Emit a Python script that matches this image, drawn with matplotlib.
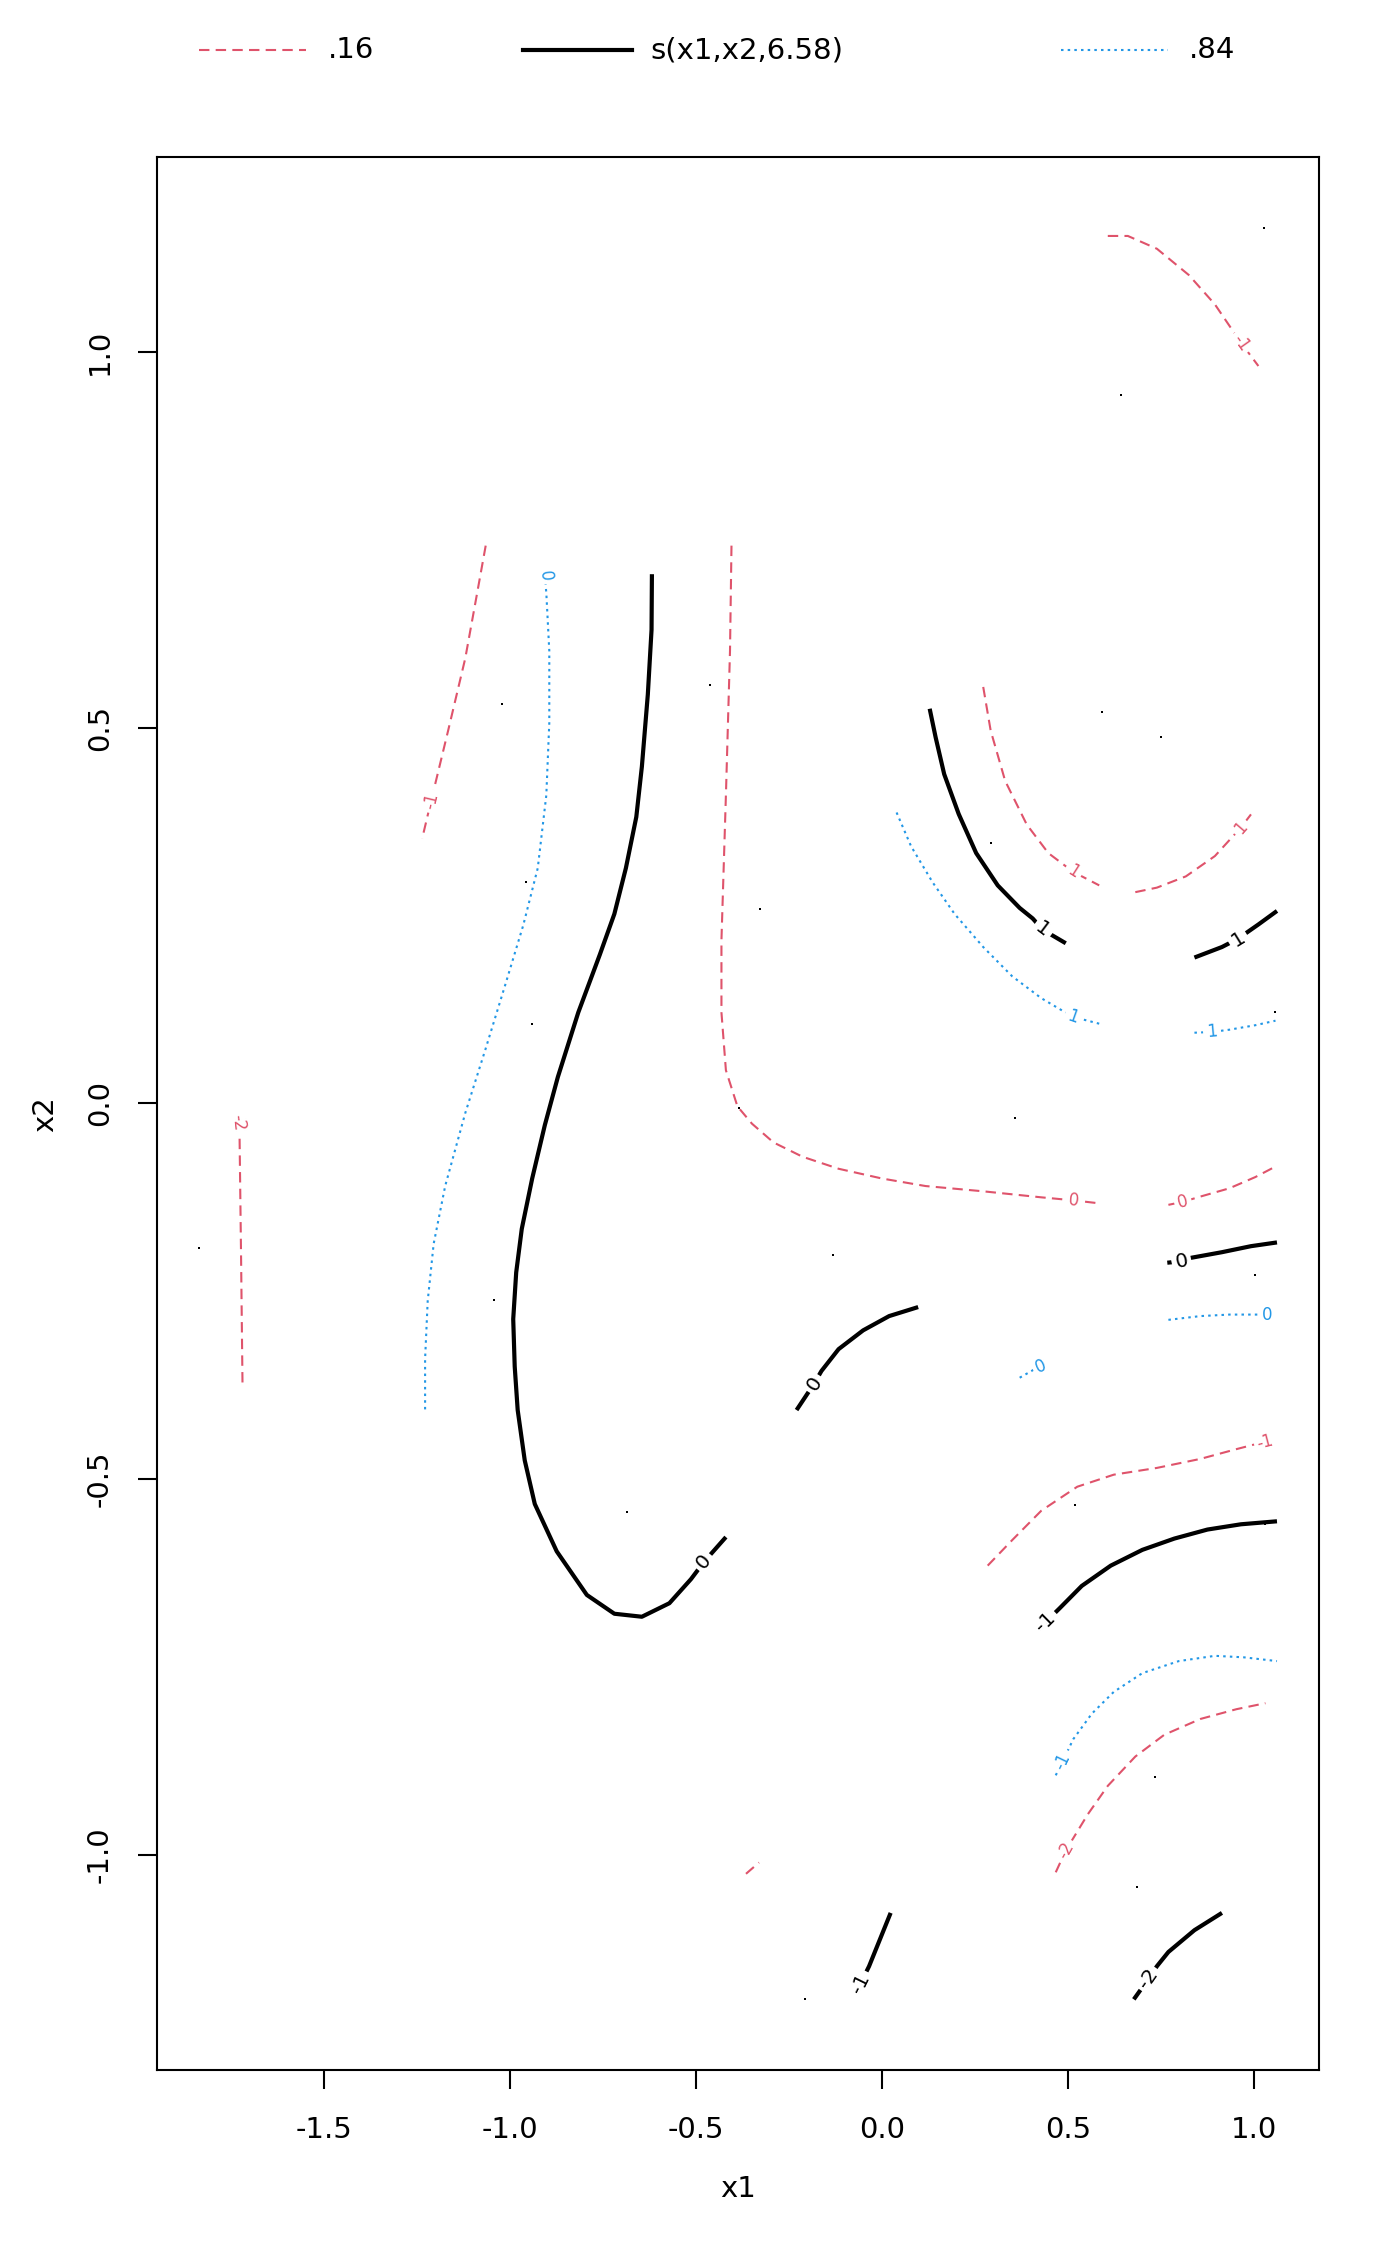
import numpy as np
import matplotlib
matplotlib.use("Agg")
import matplotlib.pyplot as plt

plt.rcParams['font.family'] = ['DejaVu Sans']
plt.rcParams['axes.unicode_minus'] = False

RED = "#DF536B"
BLUE = "#2297E6"

# legend entries
legend_labels = [".16", "s(x1,x2,6.58)", ".84"]

# data points (x1, x2)
pts_x1 = [1.027, 0.642, -0.463, -1.023, 0.591, 0.751, -0.327, 0.292, -0.957, -0.942,
          1.058, 0.358, -1.837, -0.132, -1.043, 1.004, -0.685, 0.518, 1.031, 0.735,
          0.685, -0.206, -0.385]
pts_x2 = [1.165, 0.942, 0.556, 0.531, 0.521, 0.488, 0.258, 0.346, 0.294, 0.106,
          0.121, -0.019, -0.192, -0.202, -0.262, -0.229, -0.544, -0.535, -0.560, -0.896,
          -1.042, -1.192, -0.006]

# contour pieces: (level label, x1 values, x2 values, vertex index of label or None)
lower_contours = [
    ("-1", [0.607, 0.661, 0.739, 0.825, 0.895, 0.965, 1.012],
           [1.154, 1.154, 1.137, 1.102, 1.063, 1.012, 0.981], 5),
    ("-1", [-1.066, -1.089, -1.121, -1.167, -1.213, -1.237],
           [0.742, 0.679, 0.592, 0.496, 0.402, 0.352], 4),
    ("0", [-0.405, -0.409, -0.420, -0.432, -0.432, -0.420, -0.389, -0.350, -0.292, -0.214,
           -0.117, 0.0, 0.117, 0.272, 0.428, 0.514, 0.584],
          [0.742, 0.602, 0.410, 0.217, 0.121, 0.044, -0.004, -0.027, -0.052, -0.071,
           -0.087, -0.100, -0.110, -0.117, -0.125, -0.129, -0.133], 15),
    ("0", [0.770, 0.809, 0.856, 0.934, 1.004, 1.062],
          [-0.135, -0.131, -0.124, -0.113, -0.098, -0.083], 1),
    ("1", [0.272, 0.292, 0.331, 0.389, 0.447, 0.514, 0.584],
          [0.554, 0.496, 0.429, 0.371, 0.333, 0.308, 0.290], 5),
    ("1", [0.681, 0.739, 0.817, 0.895, 0.965, 0.996],
          [0.281, 0.287, 0.302, 0.329, 0.367, 0.387], 4),
    ("-2", [-1.732, -1.728, -1.724, -1.720],
           [-0.025, -0.042, -0.200, -0.375], 0),
    ("", [-0.366, -0.331], [-1.025, -1.010], None),
    ("-1", [0.284, 0.350, 0.428, 0.525, 0.623, 0.739, 0.856, 0.953, 1.031],
           [-0.615, -0.581, -0.542, -0.510, -0.494, -0.485, -0.473, -0.460, -0.450], 8),
    ("-2", [0.467, 0.494, 0.553, 0.607, 0.681, 0.759, 0.856, 0.953, 1.031],
           [-1.023, -0.994, -0.946, -0.908, -0.869, -0.840, -0.819, -0.806, -0.798], 1),
]

fit_contours = [
    ("0", [-0.619, -0.620, -0.630, -0.646, -0.661, -0.689, -0.720, -0.759, -0.817, -0.872,
           -0.907, -0.941, -0.969, -0.984, -0.992, -0.988, -0.980, -0.961, -0.934, -0.875,
           -0.794, -0.720, -0.646, -0.572, -0.514, -0.479, -0.420],
          [0.704, 0.630, 0.544, 0.448, 0.381, 0.313, 0.252, 0.198, 0.121, 0.035,
           -0.029, -0.100, -0.167, -0.225, -0.287, -0.350, -0.408, -0.475, -0.533, -0.596,
           -0.654, -0.679, -0.683, -0.665, -0.633, -0.610, -0.577], 25),
    ("1", [0.128, 0.144, 0.167, 0.206, 0.253, 0.311, 0.370, 0.405, 0.432, 0.494],
          [0.525, 0.487, 0.438, 0.385, 0.333, 0.290, 0.260, 0.246, 0.231, 0.213], 8),
    ("1", [0.840, 0.914, 0.957, 1.012, 1.062],
          [0.194, 0.208, 0.219, 0.238, 0.256], 2),
    ("0", [0.767, 0.805, 0.825, 0.914, 0.992, 1.062],
          [-0.212, -0.210, -0.206, -0.198, -0.190, -0.185], 1),
    ("0", [-0.230, -0.183, -0.163, -0.117, -0.051, 0.019, 0.097],
          [-0.408, -0.373, -0.356, -0.327, -0.302, -0.283, -0.271], 1),
    ("-1", [0.440, 0.479, 0.537, 0.615, 0.700, 0.786, 0.875, 0.965, 1.062],
           [-0.690, -0.671, -0.642, -0.615, -0.594, -0.579, -0.567, -0.560, -0.556], 0),
    ("-1", [0.023, -0.035, -0.058], [-1.077, -1.148, -1.171], 2),
    ("-2", [0.914, 0.840, 0.770, 0.739, 0.716, 0.677],
           [-1.077, -1.100, -1.129, -1.148, -1.165, -1.192], 4),
]

upper_contours = [
    ("0", [-0.907, -0.903, -0.895, -0.895, -0.903, -0.926, -0.965, -1.012, -1.066, -1.121,
           -1.175, -1.206, -1.222, -1.229, -1.229],
          [0.702, 0.679, 0.602, 0.506, 0.410, 0.313, 0.237, 0.160, 0.073, -0.013,
           -0.110, -0.187, -0.263, -0.340, -0.412], 0),
    ("1", [0.039, 0.078, 0.136, 0.195, 0.272, 0.350, 0.428, 0.486, 0.514, 0.584],
          [0.387, 0.342, 0.294, 0.252, 0.208, 0.169, 0.140, 0.123, 0.115, 0.106], 8),
    ("1", [0.840, 0.887, 0.934, 1.004, 1.058],
          [0.094, 0.095, 0.098, 0.104, 0.110], 1),
    ("0", [0.770, 0.856, 0.934, 1.012, 1.035],
          [-0.288, -0.283, -0.281, -0.281, -0.281], 4),
    ("0", [0.370, 0.409, 0.428], [-0.365, -0.354, -0.350], 2),
    ("-1", [0.467, 0.486, 0.514, 0.564, 0.623, 0.700, 0.798, 0.895, 0.973, 1.062],
           [-0.894, -0.875, -0.846, -0.812, -0.783, -0.758, -0.742, -0.735, -0.737, -0.742], 1),
]

x_ticks = [-1.5, -1.0, -0.5, 0.0, 0.5, 1.0]
y_ticks = [-1.0, -0.5, 0.0, 0.5, 1.0]

fig = plt.figure(figsize=(14, 22.66), dpi=100)
ax = fig.add_axes([0.11214, 0.0865, 0.830, 0.8441])
ax.set_xlim(-1.950, 1.175)
ax.set_ylim(-1.286, 1.2587)

DASH = (0, (5, 3))
DOT = (0, (1.2, 2.0))
styles = [
    (lower_contours, RED, DASH, 1.5, 12),
    (fit_contours, "black", "-", 3.0, 14.5),
    (upper_contours, BLUE, DOT, 1.5, 12),
]


def put_label(ax, xs, ys, i, text, color, size):
    pts = ax.transData.transform(np.column_stack([xs, ys]))
    a = pts[max(i - 1, 0)]
    b = pts[min(i + 1, len(xs) - 1)]
    ang = np.degrees(np.arctan2(b[1] - a[1], b[0] - a[0]))
    if ang > 90:
        ang -= 180
    elif ang < -90:
        ang += 180
    ax.text(xs[i], ys[i], text, color=color, fontsize=size, rotation=ang,
            rotation_mode="anchor", ha="center", va="center", zorder=5,
            bbox=dict(facecolor="white", edgecolor="none", pad=2.5))


for contours, col, ls, lw, fs in styles:
    for lev, xs, ys, li in contours:
        ax.plot(xs, ys, color=col, linestyle=ls, linewidth=lw,
                solid_capstyle="butt", dash_capstyle="butt", zorder=3)
        if li is not None:
            put_label(ax, xs, ys, li, lev, col, fs)

ax.plot(pts_x1, pts_x2, linestyle="none", marker="s", markersize=1.8,
        color="black", markeredgewidth=0, zorder=4)

ax.set_xticks(x_ticks)
ax.set_yticks(y_ticks)
ax.set_xticklabels([f"{v:.1f}" for v in x_ticks])
ax.set_yticklabels([f"{v:.1f}" for v in y_ticks])
ax.tick_params(axis="both", direction="out", length=14, width=1.5, labelsize=21)
ax.tick_params(axis="x", pad=19)
ax.tick_params(axis="y", pad=17, labelrotation=90)
for t in ax.get_yticklabels():
    t.set_va("center")
for s in ax.spines.values():
    s.set_linewidth(1.5)

ax.set_xlabel("x1", fontsize=21, va="center")
ax.set_ylabel("x2", fontsize=21, va="center")
ax.xaxis.set_label_coords(0.5, -0.062)
ax.yaxis.set_label_coords(-0.0965, 0.5)

# legend row above the plot (figure fractions)
leg_y = 0.9779
leg_spans = [(0.1425, 0.2189, 0.2343), (0.3736, 0.4514, 0.4643), (0.7579, 0.8343, 0.8493)]
leg_styles = [(RED, DASH, 1.5), ("black", "-", 3.0), (BLUE, DOT, 1.5)]
for (x0, x1, xt), (col, ls, lw), lab in zip(leg_spans, leg_styles, legend_labels):
    fig.add_artist(plt.Line2D([x0, x1], [leg_y, leg_y], color=col,
                              linestyle=ls, linewidth=lw, transform=fig.transFigure))
    fig.text(xt, leg_y, lab, fontsize=21, ha="left", va="center")

fig.savefig("out.png", dpi=100)
